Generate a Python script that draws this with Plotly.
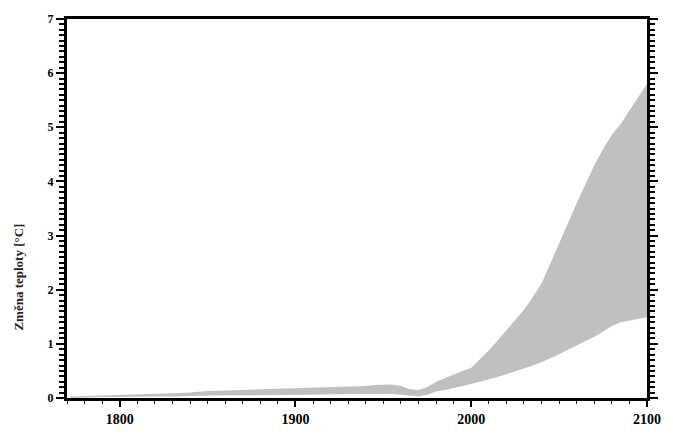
import plotly.graph_objects as go

years = [1772, 1780, 1790, 1800, 1810, 1820, 1830, 1840, 1850, 1860, 1870, 1880,
         1890, 1900, 1910, 1920, 1930, 1940, 1945, 1950, 1955, 1960, 1965, 1970,
         1975, 1980, 1985, 1990, 1995, 2000, 2005, 2010, 2015, 2020, 2025, 2030,
         2035, 2040, 2045, 2050, 2055, 2060, 2065, 2070, 2075, 2080, 2085, 2090,
         2095, 2100]
upper = [0.03, 0.04, 0.05, 0.06, 0.07, 0.08, 0.09, 0.10, 0.13, 0.14, 0.15, 0.15,
         0.16, 0.17, 0.18, 0.19, 0.20, 0.22, 0.24, 0.25, 0.25, 0.22, 0.16, 0.15,
         0.20, 0.30, 0.37, 0.44, 0.50, 0.56, 0.72, 0.88, 1.06, 1.25, 1.43, 1.63,
         1.86, 2.12, 2.48, 2.86, 3.24, 3.60, 3.95, 4.30, 4.60, 4.86, 5.06, 5.32,
         5.56, 5.80]
lower = [0.00, 0.01, 0.02, 0.02, 0.03, 0.03, 0.03, 0.04, 0.04, 0.05, 0.05, 0.05,
         0.06, 0.06, 0.06, 0.07, 0.07, 0.08, 0.08, 0.08, 0.08, 0.06, 0.04, 0.03,
         0.06, 0.12, 0.15, 0.18, 0.22, 0.26, 0.30, 0.34, 0.39, 0.44, 0.49, 0.54,
         0.60, 0.66, 0.73, 0.81, 0.89, 0.97, 1.05, 1.13, 1.23, 1.33, 1.40, 1.43,
         1.45, 1.49]

x_ticks = [1800, 1900, 2000, 2100]
y_ticks = [0, 1, 2, 3, 4, 5, 6, 7]
y_title = "Změna teploty [°C]"

band = "#c0c0c0"
fig = go.Figure()
fig.add_trace(go.Scatter(x=years, y=lower, mode="lines", line=dict(width=0, color=band),
                         showlegend=False, hoverinfo="skip"))
fig.add_trace(go.Scatter(x=years, y=upper, mode="lines", line=dict(width=0, color=band),
                         fill="tonexty", fillcolor=band, showlegend=False))

serif = "Liberation Serif, Times New Roman, serif"
fig.update_layout(
    width=673, height=439,
    margin=dict(l=67, r=17, t=16, b=30),
    paper_bgcolor="white", plot_bgcolor="white",
    font=dict(family=serif, size=12, color="black"),
    xaxis=dict(range=[1770, 2100], tickvals=x_ticks, ticks="outside", ticklen=6,
               tickwidth=2, tickcolor="black", showline=True, linewidth=3,
               linecolor="black", mirror=True, showgrid=False, zeroline=False,
               tickfont=dict(size=14, family=serif, color="black", weight="bold"),
               minor=dict(dtick=10, ticks="outside", ticklen=3, tickwidth=1,
                          tickcolor="black", showgrid=False)),
    yaxis=dict(range=[0, 7], tickvals=y_ticks, ticks="outside", ticklen=8,
               tickwidth=2, tickcolor="black", showline=True, linewidth=3,
               linecolor="black", mirror="ticks", showgrid=False, zeroline=False,
               tickfont=dict(size=12, family=serif, color="black", weight="bold"),
               minor=dict(dtick=0.1, ticks="outside", ticklen=5, tickwidth=2,
                          tickcolor="black", showgrid=False)),
    annotations=[dict(text=y_title, xref="paper", yref="paper",
                      x=-0.083, y=0.32, xanchor="center", yanchor="middle",
                      showarrow=False, textangle=-90,
                      font=dict(size=13, family=serif, color="#222", weight="bold"))],
)
fig.write_html("out.html")
